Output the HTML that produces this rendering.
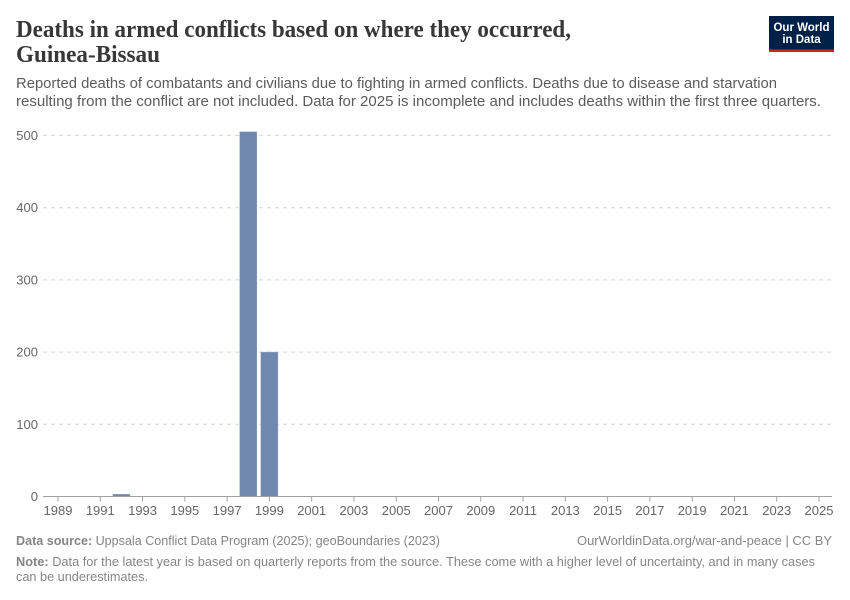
<!DOCTYPE html>
<html lang="en">
<head>
<meta charset="utf-8">
<title>Deaths in armed conflicts based on where they occurred, Guinea-Bissau</title>
<style>
html,body{margin:0;padding:0;background:#fff;}
svg{display:block;font-family:"Liberation Sans",sans-serif;}
.title{font-family:"Liberation Serif",serif;font-weight:700;font-size:24px;fill:#373737;}
.sub{font-size:15px;fill:#5b5b5b;}
.tick{font-size:13px;fill:#666;}
.foot{font-size:13px;fill:#858585;}
</style>
</head>
<body>
<svg id="chart" width="850" height="600" viewBox="0 0 850 600" xmlns="http://www.w3.org/2000/svg">
  <rect width="850" height="600" fill="#fff"/>
  <g>
    <text class="title" x="16" y="37" textLength="555" lengthAdjust="spacingAndGlyphs">Deaths in armed conflicts based on where they occurred,</text>
    <text class="title" x="16" y="62" textLength="144" lengthAdjust="spacingAndGlyphs">Guinea-Bissau</text>
    <text class="sub" x="16" y="88" textLength="761" lengthAdjust="spacingAndGlyphs">Reported deaths of combatants and civilians due to fighting in armed conflicts. Deaths due to disease and starvation</text>
    <text class="sub" x="16" y="106" textLength="805" lengthAdjust="spacingAndGlyphs">resulting from the conflict are not included. Data for 2025 is incomplete and includes deaths within the first three quarters.</text>
  </g>
  <a href="#">
    <rect x="769" y="16" width="65" height="36" fill="#002147"/>
    <rect x="769" y="49.5" width="65" height="2.5" fill="#ce261e"/>
    <text x="801.5" y="31" text-anchor="middle" font-size="11.5" font-weight="700" fill="#fff">Our World</text>
    <text x="801.5" y="43" text-anchor="middle" font-size="11.5" font-weight="700" fill="#fff">in Data</text>
  </a>
  <g id="grid"></g>
  <g id="bars"></g>
  <g id="yaxis"></g>
  <g id="xaxis"></g>
  <g>
    <text class="foot" x="16" y="545" textLength="424" lengthAdjust="spacingAndGlyphs"><tspan font-weight="700">Data source:</tspan> Uppsala Conflict Data Program (2025); geoBoundaries (2023)</text>
    <text class="foot" x="832" y="545" text-anchor="end" textLength="255" lengthAdjust="spacingAndGlyphs">OurWorldinData.org/war-and-peace | CC BY</text>
    <text class="foot" x="16" y="566" textLength="799" lengthAdjust="spacingAndGlyphs"><tspan font-weight="700">Note:</tspan> Data for the latest year is based on quarterly reports from the source. These come with a higher level of uncertainty, and in many cases</text>
    <text class="foot" x="16" y="581" textLength="132" lengthAdjust="spacingAndGlyphs">can be underestimates.</text>
  </g>
</svg>
<script>
const years = [1989,1990,1991,1992,1993,1994,1995,1996,1997,1998,1999,2000,2001,2002,2003,2004,2005,2006,2007,2008,2009,2010,2011,2012,2013,2014,2015,2016,2017,2018,2019,2020,2021,2022,2023,2024,2025];
const deaths = [0,0,0,3,0,0,0,0,0,505,200,0,0,0,0,0,0,0,0,0,0,0,0,0,0,0,0,0,0,0,0,0,0,0,0,0,0];
const yTicks = [0,100,200,300,400,500];
const xTicks = [1989,1991,1993,1995,1997,1999,2001,2003,2005,2007,2009,2011,2013,2015,2017,2019,2021,2023,2025];

const NS = 'http://www.w3.org/2000/svg';
const plotLeft = 43, plotRight = 832;
const x0 = 58, x1 = 819, y0 = 496.5, y1 = 135.5;
const xScale = function (year) { return x0 + (year - years[0]) * (x1 - x0) / (years[years.length - 1] - years[0]); };
const yScale = function (value) { return y0 - value * (y0 - y1) / 500; };
const barWidth = 17;

function make(tag, parent, attrs) {
  const el = document.createElementNS(NS, tag);
  Object.keys(attrs).forEach(function (k) { el.setAttribute(k, attrs[k]); });
  parent.appendChild(el);
  return el;
}

const grid = document.getElementById('grid');
const bars = document.getElementById('bars');
const yaxis = document.getElementById('yaxis');
const xaxis = document.getElementById('xaxis');

yTicks.forEach(function (t) {
  const y = yScale(t);
  if (t !== 0) {
    const line = make('line', grid, {x1: plotLeft, x2: plotRight, y1: y, y2: y, stroke: '#d8d8d8', 'stroke-dasharray': '4,4'});
    
    
  }
  const label = make('text', yaxis, {x: 38, y: y + 4.5, 'text-anchor': 'end', 'class': 'tick'});
  label.textContent = t;
  
  
});

years.forEach(function (yr, i) {
  if (deaths[i] <= 0) return;
  const top = yScale(deaths[i]);
  const rect = make('rect', bars, {x: xScale(yr) - barWidth / 2, y: top, width: barWidth, height: y0 - top, fill: '#7088af', stroke: '#8ea1c0', 'stroke-width': 0.5});
  
  
});

const baseline = make('line', xaxis, {x1: plotLeft, x2: plotRight, y1: y0, y2: y0, stroke: '#a1a1a1'});



xTicks.forEach(function (yr) {
  const x = xScale(yr);
  const tick = make('line', xaxis, {x1: x, x2: x, y1: y0, y2: y0 + 5, stroke: '#a1a1a1'});
  
  
  const label = make('text', xaxis, {x: x, y: 515, 'text-anchor': 'middle', 'class': 'tick'});
  label.textContent = yr;
  
  
});
</script>
</body>
</html>
